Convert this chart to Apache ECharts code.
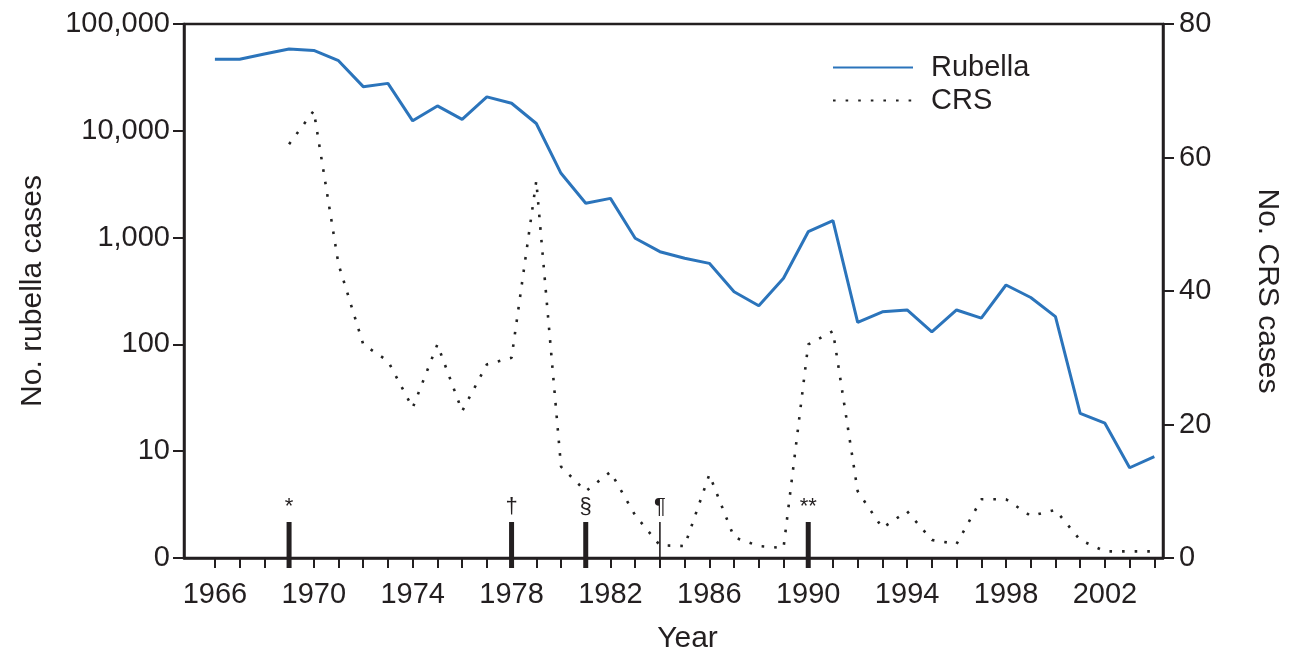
<!DOCTYPE html>
<html>
<head>
<meta charset="utf-8">
<script src="https://cdn.jsdelivr.net/npm/echarts@6/dist/echarts.min.js"></script>
<style>html,body{margin:0;padding:0;background:#fff}#c{width:1289px;height:653px}</style>
</head>
<body>
<div id="c"></div>
<script>
// ---- data ----
const rubellaYears = [1966,1967,1968,1969,1970,1971,1972,1973,1974,1975,1976,1977,1978,1979,1980,1981,1982,1983,1984,1985,1986,1987,1988,1989,1990,1991,1992,1993,1994,1995,1996,1997,1998,1999,2000,2001,2002,2003,2004];
const rubellaCases = [46700,46700,52400,58300,56500,45300,25900,27800,12400,17100,12800,20800,18100,11700,4000,2100,2330,985,738,640,574,311,230,416,1135,1440,161,202,210,131,210,176,360,275,182,22.6,18.3,7,8.9];
const crsYears = [1969,1970,1971,1972,1973,1974,1975,1976,1977,1978,1979,1980,1981,1982,1983,1984,1985,1986,1987,1988,1989,1990,1991,1992,1993,1994,1995,1996,1997,1998,1999,2000,2001,2002,2003,2004];
const crsCases = [62,67,44,32,29.5,22.5,32,22,29,30,56.5,13.7,10,12.9,6.4,1.9,1.8,12.5,3.1,1.8,1.5,32,34,10,4.5,7,2.7,2.1,8.8,8.8,6.3,7.2,2.7,1,1,1];
const yearTicks = [1966,1967,1968,1969,1970,1971,1972,1973,1974,1975,1976,1977,1978,1979,1980,1981,1982,1983,1984,1985,1986,1987,1988,1989,1990,1991,1992,1993,1994,1995,1996,1997,1998,1999,2000,2001,2002,2003,2004];
const yearLabels = [1966,1970,1974,1978,1982,1986,1990,1994,1998,2002];
const eventYears = [1969,1978,1981,1984,1990];
const eventMarks = ['*','\u2020','\u00a7','\u00b6','**'];

// ---- chart ----
const FONT = '"Liberation Sans", Arial, Helvetica, sans-serif';
const INK = '#231f20';
const chart = echarts.init(document.getElementById('c'), null, {renderer: 'canvas'});

const rubellaData = rubellaYears.map((y, i) => [y, rubellaCases[i]]);
const crsData = crsYears.map((y, i) => [y, crsCases[i]]);
const eventData = eventYears.map((y, i) => [y, 0, i]);

chart.setOption({
  animation: false,
  backgroundColor: '#fff',
  textStyle: {fontFamily: FONT, color: INK},
  grid: {left: 184, right: 126, top: 24, bottom: 95, containLabel: false, outerBoundsMode: 'none',
    show: true, borderColor: INK, borderWidth: 2.5, backgroundColor: 'transparent'},
  legend: {
    data: ['Rubella', 'CRS'],
    orient: 'vertical', left: 827, top: 48,
    itemWidth: 80, itemHeight: 14, itemGap: 4,
    itemStyle: {opacity: 0},
    textStyle: {fontFamily: FONT, fontSize: 29, color: INK, padding: [0, 0, 0, 13]}
  },
  xAxis: {
    type: 'value', min: 1964.75, max: 2004.35,
    name: 'Year', nameLocation: 'middle', nameGap: 66,
    nameTextStyle: {fontFamily: FONT, fontSize: 30, color: INK, padding: [0, 0, 0, 28]},
    axisLine: {show: true, onZero: false, lineStyle: {color: INK, width: 2.5}},
    axisTick: {show: true, length: 10, lineStyle: {color: INK, width: 2}, customValues: yearTicks},
    axisLabel: {fontFamily: FONT, fontSize: 29, color: INK, margin: 22, customValues: yearLabels, formatter: v => String(v)},
    splitLine: {show: false}
  },
  yAxis: [
    {
      type: 'log', logBase: 10, min: 1, max: 100000, position: 'left',
      name: 'No. rubella cases', nameLocation: 'middle', nameGap: 136, nameRotate: 90,
      nameTextStyle: {fontFamily: FONT, fontSize: 30, color: INK},
      axisLine: {show: true, lineStyle: {color: INK, width: 2.5}},
      axisTick: {show: true, length: 11, lineStyle: {color: INK, width: 2}},
      axisLabel: {fontFamily: FONT, fontSize: 29, color: INK, margin: 14,
        formatter: v => v <= 1 ? '0' : Math.round(v).toLocaleString('en-US')},
      splitLine: {show: false}
    },
    {
      type: 'value', min: 0, max: 80, interval: 20, position: 'right',
      name: 'No. CRS cases', nameLocation: 'middle', nameGap: 89, nameRotate: -90,
      nameTextStyle: {fontFamily: FONT, fontSize: 30, color: INK},
      axisLine: {show: true, lineStyle: {color: INK, width: 2.5}},
      axisTick: {show: true, length: 11, lineStyle: {color: INK, width: 2}},
      axisLabel: {fontFamily: FONT, fontSize: 29, color: INK, margin: 16},
      splitLine: {show: false}
    }
  ],
  series: [
    {
      name: 'Rubella', type: 'line', yAxisIndex: 0, data: rubellaData,
      symbol: 'none', lineStyle: {color: '#2b74bb', width: 3}, itemStyle: {color: '#2b74bb'}, z: 3
    },
    {
      name: 'CRS', type: 'line', yAxisIndex: 1, data: crsData,
      symbol: 'none', lineStyle: {color: '#222', width: 2.6, type: [2.6, 10]}, itemStyle: {color: '#222'}, z: 2
    },
    {
      name: 'events', type: 'custom', yAxisIndex: 1, data: eventData, clip: false, z: 5,
      renderItem: function (params, api) {
        const p = api.coord([api.value(0), api.value(1)]);
        const mark = eventMarks[api.value(2)];
        const w = mark === '\u00b6' ? 1.6 : 5;
        return {
          type: 'group',
          children: [
            {type: 'rect', shape: {x: p[0] - w / 2, y: p[1] - 36, width: w, height: 46}, style: {fill: INK}},
            {type: 'text', x: p[0], y: p[1] - 40, style: {text: mark, fill: INK, font: '22px ' + FONT, align: 'center', verticalAlign: 'bottom'}}
          ]
        };
      }
    }
  ]
});
</script>
</body>
</html>
